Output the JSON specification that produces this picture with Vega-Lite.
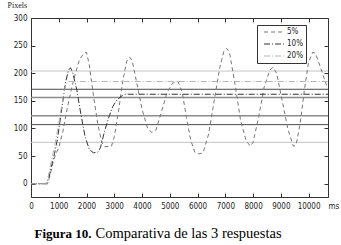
{
  "$schema": "https://vega.github.io/schema/vega-lite/v6.json",
  "width": 297,
  "height": 179,
  "autosize": {"type": "none"},
  "padding": {"left": 31, "top": 18, "right": 13, "bottom": 48},
  "background": "white",
  "config": {
    "view": {"stroke": "#333", "strokeWidth": 1},
    "axis": {
      "grid": false,
      "domain": false,
      "tickColor": "#333",
      "tickSize": -4,
      "labelFont": "Liberation Sans Narrow, DejaVu Sans Condensed, sans-serif",
      "labelFontSize": 8,
      "labelColor": "#222",
      "labelOverlap": false,
      "labelFlush": false
    }
  },
  "datasets": {
    "lines": [
      {"s": "5%", "t": 0, "v": 0}, {"s": "5%", "t": 600, "v": 0}, {"s": "5%", "t": 700, "v": 18}, {"s": "5%", "t": 800, "v": 40},
      {"s": "5%", "t": 900, "v": 55}, {"s": "5%", "t": 1000, "v": 65}, {"s": "5%", "t": 1150, "v": 95}, {"s": "5%", "t": 1300, "v": 135},
      {"s": "5%", "t": 1450, "v": 170}, {"s": "5%", "t": 1600, "v": 200}, {"s": "5%", "t": 1750, "v": 225}, {"s": "5%", "t": 1900, "v": 236},
      {"s": "5%", "t": 2000, "v": 238}, {"s": "5%", "t": 2100, "v": 215}, {"s": "5%", "t": 2250, "v": 160}, {"s": "5%", "t": 2400, "v": 110},
      {"s": "5%", "t": 2550, "v": 75}, {"s": "5%", "t": 2650, "v": 67}, {"s": "5%", "t": 2900, "v": 68}, {"s": "5%", "t": 3000, "v": 85},
      {"s": "5%", "t": 3150, "v": 130}, {"s": "5%", "t": 3300, "v": 185}, {"s": "5%", "t": 3450, "v": 222}, {"s": "5%", "t": 3560, "v": 229},
      {"s": "5%", "t": 3650, "v": 222}, {"s": "5%", "t": 3800, "v": 185}, {"s": "5%", "t": 4000, "v": 135}, {"s": "5%", "t": 4200, "v": 100},
      {"s": "5%", "t": 4350, "v": 93}, {"s": "5%", "t": 4500, "v": 97}, {"s": "5%", "t": 4700, "v": 130}, {"s": "5%", "t": 4900, "v": 165},
      {"s": "5%", "t": 5100, "v": 182}, {"s": "5%", "t": 5300, "v": 185}, {"s": "5%", "t": 5450, "v": 165}, {"s": "5%", "t": 5600, "v": 120},
      {"s": "5%", "t": 5750, "v": 80}, {"s": "5%", "t": 5900, "v": 57}, {"s": "5%", "t": 6050, "v": 54}, {"s": "5%", "t": 6200, "v": 56},
      {"s": "5%", "t": 6400, "v": 90}, {"s": "5%", "t": 6600, "v": 150}, {"s": "5%", "t": 6800, "v": 210}, {"s": "5%", "t": 6950, "v": 240},
      {"s": "5%", "t": 7050, "v": 245}, {"s": "5%", "t": 7150, "v": 238}, {"s": "5%", "t": 7350, "v": 180}, {"s": "5%", "t": 7550, "v": 115},
      {"s": "5%", "t": 7750, "v": 78}, {"s": "5%", "t": 7900, "v": 68}, {"s": "5%", "t": 8000, "v": 75}, {"s": "5%", "t": 8200, "v": 120},
      {"s": "5%", "t": 8400, "v": 175}, {"s": "5%", "t": 8600, "v": 205}, {"s": "5%", "t": 8720, "v": 211}, {"s": "5%", "t": 8850, "v": 200},
      {"s": "5%", "t": 9050, "v": 150}, {"s": "5%", "t": 9250, "v": 100}, {"s": "5%", "t": 9450, "v": 68}, {"s": "5%", "t": 9550, "v": 70},
      {"s": "5%", "t": 9700, "v": 110}, {"s": "5%", "t": 9850, "v": 170}, {"s": "5%", "t": 10000, "v": 220}, {"s": "5%", "t": 10150, "v": 238},
      {"s": "5%", "t": 10250, "v": 236}, {"s": "5%", "t": 10400, "v": 215}, {"s": "5%", "t": 10550, "v": 192}, {"s": "5%", "t": 10650, "v": 178},
      {"s": "10%", "t": 0, "v": 0}, {"s": "10%", "t": 560, "v": 0}, {"s": "10%", "t": 650, "v": 12}, {"s": "10%", "t": 750, "v": 35},
      {"s": "10%", "t": 850, "v": 55}, {"s": "10%", "t": 950, "v": 80}, {"s": "10%", "t": 1050, "v": 115}, {"s": "10%", "t": 1150, "v": 150},
      {"s": "10%", "t": 1250, "v": 185}, {"s": "10%", "t": 1350, "v": 205}, {"s": "10%", "t": 1420, "v": 210}, {"s": "10%", "t": 1500, "v": 202},
      {"s": "10%", "t": 1650, "v": 170}, {"s": "10%", "t": 1800, "v": 125}, {"s": "10%", "t": 1950, "v": 85}, {"s": "10%", "t": 2100, "v": 62},
      {"s": "10%", "t": 2250, "v": 56}, {"s": "10%", "t": 2400, "v": 57}, {"s": "10%", "t": 2500, "v": 65}, {"s": "10%", "t": 2650, "v": 95},
      {"s": "10%", "t": 2800, "v": 120}, {"s": "10%", "t": 2950, "v": 140}, {"s": "10%", "t": 3100, "v": 152}, {"s": "10%", "t": 3300, "v": 160},
      {"s": "10%", "t": 3400, "v": 162}, {"s": "10%", "t": 10700, "v": 162},
      {"s": "20%", "t": 0, "v": 0}, {"s": "20%", "t": 560, "v": 0}, {"s": "20%", "t": 650, "v": 20}, {"s": "20%", "t": 750, "v": 45},
      {"s": "20%", "t": 850, "v": 68}, {"s": "20%", "t": 950, "v": 95}, {"s": "20%", "t": 1050, "v": 125}, {"s": "20%", "t": 1150, "v": 155},
      {"s": "20%", "t": 1250, "v": 178}, {"s": "20%", "t": 1330, "v": 185}, {"s": "20%", "t": 10700, "v": 185}
    ],
    "refs": [
      {"g": "outer", "v": 204}, {"g": "outer", "v": 75},
      {"g": "middle", "v": 171}, {"g": "middle", "v": 107},
      {"g": "inner", "v": 156}, {"g": "inner", "v": 123}
    ]
  },
  "layer": [
    {
      "data": {"name": "refs"},
      "transform": [{"filter": "datum.g == 'outer'"}],
      "mark": {"type": "rule", "color": "#c4c4c4", "strokeWidth": 1},
      "encoding": {"y": {"field": "v", "type": "quantitative", "scale": {"domain": [-24, 300], "nice": false}, "axis": null}}
    },
    {
      "data": {"name": "refs"},
      "transform": [{"filter": "datum.g == 'inner'"}],
      "mark": {"type": "rule", "color": "#8c8c8c", "strokeWidth": 1.5},
      "encoding": {"y": {"field": "v", "type": "quantitative", "scale": {"domain": [-24, 300], "nice": false}, "axis": null}}
    },
    {
      "data": {"name": "refs"},
      "transform": [{"filter": "datum.g == 'middle'"}],
      "mark": {"type": "rule", "color": "#4a4a4a", "strokeWidth": 1},
      "encoding": {"y": {"field": "v", "type": "quantitative", "scale": {"domain": [-24, 300], "nice": false},
        "axis": {"orient": "right", "values": [0, 50, 100, 150, 200, 250, 300], "labels": false, "title": null}}}
    },
    {
      "data": {"name": "lines"},
      "mark": {"type": "line", "strokeWidth": 1},
      "encoding": {
        "x": {"field": "t", "type": "quantitative", "scale": {"domain": [0, 10700], "nice": false, "zero": false},
          "axis": {"orient": "bottom", "values": [0, 1000, 2000, 3000, 4000, 5000, 6000, 7000, 8000, 9000, 10000, 10700],
            "labelExpr": "datum.value == 10700 ? 'ms' : datum.value",
            "labelAlign": {"condition": {"test": "datum.value == 10700", "value": "left"}, "value": "center"},
            "labelPadding": 9,
            "title": "Comparativa de las 3 respuestas", "titleX": 64, "titleY": 40, "titleAlign": "left", "titleBaseline": "alphabetic",
            "titleFont": "Liberation Serif", "titleFontSize": 14.5, "titleFontWeight": "normal", "titleColor": "#000"}},
        "y": {"field": "v", "type": "quantitative", "scale": {"domain": [-24, 300], "nice": false},
          "axis": {"orient": "left", "values": [0, 50, 100, 150, 200, 250, 300], "labelPadding": 8,
            "title": "Pixels", "titleAngle": 0, "titleX": -24, "titleY": -13, "titleAlign": "left", "titleBaseline": "middle",
            "titleFont": "Liberation Serif", "titleFontSize": 8, "titleFontWeight": "normal", "titleColor": "#222"}},
        "color": {"field": "s", "type": "nominal", "sort": ["5%", "10%", "20%"],
          "scale": {"domain": ["5%", "10%", "20%"], "range": ["#777777", "#333333", "#b4b4b4"]},
          "legend": {"orient": "none", "legendX": 226, "legendY": 7, "title": null, "strokeColor": "#333", "fillColor": "white",
            "padding": 3, "symbolType": "M0,0H6", "symbolSize": 49, "symbolStrokeWidth": 1, "rowPadding": 4,
            "labelFont": "Liberation Sans Narrow, DejaVu Sans Condensed, sans-serif", "labelFontSize": 8, "labelColor": "#222", "labelOffset": 19}},
        "strokeDash": {"field": "s", "type": "nominal", "sort": ["5%", "10%", "20%"],
          "scale": {"domain": ["5%", "10%", "20%"], "range": [[4, 3], [6, 2, 1, 2], [6, 2, 1, 2]]},
          "legend": {"orient": "none", "legendX": 226, "legendY": 7, "title": null, "strokeColor": "#333", "fillColor": "white",
            "padding": 3, "symbolType": "M0,0H6", "symbolSize": 49, "symbolStrokeWidth": 1, "rowPadding": 4,
            "labelFont": "Liberation Sans Narrow, DejaVu Sans Condensed, sans-serif", "labelFontSize": 8, "labelColor": "#222", "labelOffset": 19}}
      }
    },
    {
      "data": {"name": "lines"},
      "mark": {"type": "line", "opacity": 0},
      "encoding": {
        "x": {"field": "t", "type": "quantitative", "scale": {"domain": [0, 10700], "nice": false, "zero": false},
          "axis": {"orient": "top", "values": [0, 1000, 2000, 3000, 4000, 5000, 6000, 7000, 8000, 9000, 10000], "labels": false,
            "title": "Figura 10.", "titleX": 3, "titleY": 219, "titleAlign": "left", "titleBaseline": "alphabetic",
            "titleFont": "Liberation Serif", "titleFontSize": 13, "titleFontWeight": "bold", "titleColor": "#000"}},
        "y": {"field": "v", "type": "quantitative", "scale": {"domain": [-24, 300], "nice": false}, "axis": null},
        "detail": {"field": "s"}
      }
    }
  ],
  "resolve": {"axis": {"x": "independent", "y": "independent"}}
}
